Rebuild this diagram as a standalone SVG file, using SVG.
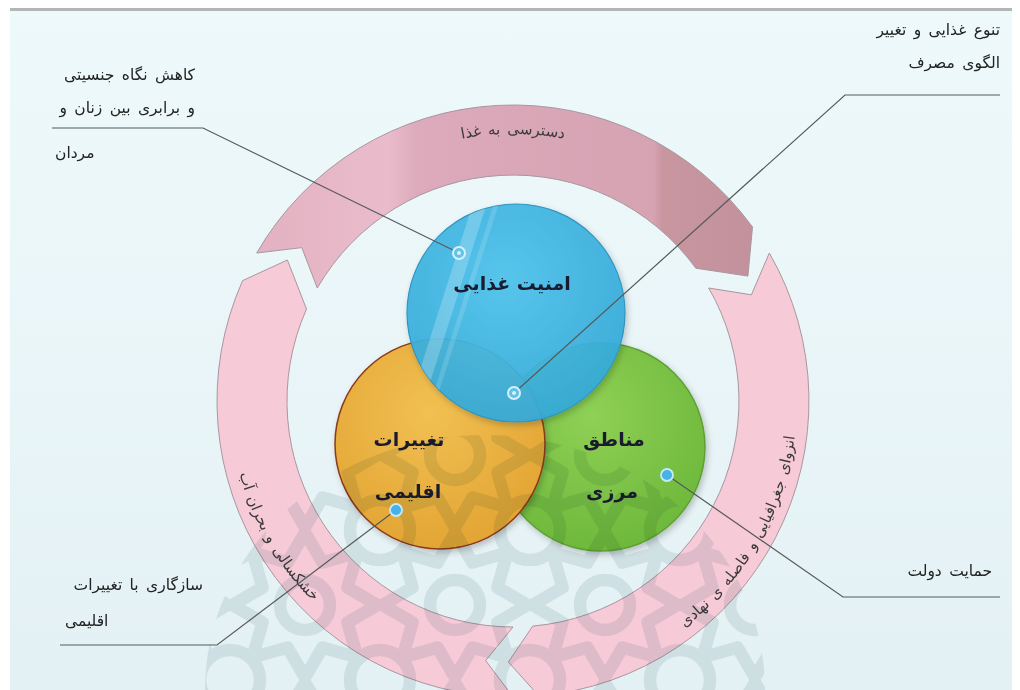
<svg xmlns="http://www.w3.org/2000/svg" width="1020" height="690" viewBox="0 0 1020 690">
  <defs>
    <style>
      .lbl { font-family: "DejaVu Sans", "Noto Sans", sans-serif; font-size: 15.5px; word-spacing: 2.5px; fill: #222; }
      .arctxt { font-family: "DejaVu Sans", "Noto Sans", sans-serif; font-size: 15px; word-spacing: 2px; fill: #3a3a3a; }
      .node-txt { font-family: "DejaVu Sans", "Noto Sans", sans-serif; font-size: 19px; font-weight: bold; fill: #1b1b2f; }
      .arc-pink { fill: #f7cad7; stroke: #a8979e; stroke-width: 1; }
      .conn { fill: none; stroke: #555a5c; stroke-width: 1.2; }
      .ring-dot { fill: #62c3e8; stroke: #d6f1fb; stroke-width: 2; }
      .solid-dot { fill: #47b2e8; stroke: #c4e9f8; stroke-width: 1.8; }
      .wm { fill: none; stroke: #d2dcde; stroke-width: 10; stroke-linejoin: round; }
    </style>
    <linearGradient id="bg" x1="0" y1="0" x2="0" y2="1">
      <stop offset="0" stop-color="#eef9fb"/>
      <stop offset="1" stop-color="#e4f1f4"/>
    </linearGradient>
    <linearGradient id="topArc" gradientUnits="userSpaceOnUse" x1="250" y1="0" x2="760" y2="0">
      <stop offset="0" stop-color="#e3b1c1"/>
      <stop offset="0.27" stop-color="#eabccb"/>
      <stop offset="0.33" stop-color="#dcaaba"/>
      <stop offset="0.79" stop-color="#d6a3b3"/>
      <stop offset="0.81" stop-color="#c8969f"/>
      <stop offset="1" stop-color="#c3919c"/>
    </linearGradient>
    <radialGradient id="gBlue" cx="0.45" cy="0.35" r="0.7">
      <stop offset="0" stop-color="#4fc4ec"/>
      <stop offset="1" stop-color="#33a8d8"/>
    </radialGradient>
    <radialGradient id="gYellow" cx="0.45" cy="0.35" r="0.7">
      <stop offset="0" stop-color="#f1c052"/>
      <stop offset="1" stop-color="#e2a332"/>
    </radialGradient>
    <radialGradient id="gGreen" cx="0.45" cy="0.35" r="0.7">
      <stop offset="0" stop-color="#8fd055"/>
      <stop offset="1" stop-color="#6bb73a"/>
    </radialGradient>
    <filter id="shadow" x="-20%" y="-20%" width="140%" height="140%">
      <feDropShadow dx="2" dy="3" stdDeviation="3" flood-color="#000" flood-opacity="0.22"/>
    </filter>
    <clipPath id="blueClip"><circle cx="516" cy="313" r="109"/></clipPath>
    <clipPath id="wmClip"><ellipse cx="485" cy="690" rx="280" ry="255"/></clipPath>
    <pattern id="girih" patternUnits="userSpaceOnUse" x="380" y="530" width="120" height="120" patternTransform="translate(380 530) scale(1.25) translate(-380 -530)">
      <polygon class="wm" points="60,2 74,26 102,18 94,46 118,60 94,74 102,102 74,94 60,118 46,94 18,102 26,74 2,60 26,46 18,18 46,26"/>
      <circle class="wm" cx="60" cy="60" r="20"/>
      <circle class="wm" cx="0" cy="0" r="24"/>
      <circle class="wm" cx="120" cy="0" r="24"/>
      <circle class="wm" cx="0" cy="120" r="24"/>
      <circle class="wm" cx="120" cy="120" r="24"/>
    </pattern>
    <path id="pTop" d="M 340.6 196.7 A 268 268 0 0 1 685.4 196.7"/>
    <path id="pLeft" d="M 231.1 376.3 A 283 283 0 0 0 393.4 657.5"/>
    <path id="pRight" d="M 586.5 675.3 A 284 284 0 0 0 787.3 327.5"/>
  </defs>

  <!-- background -->
  <rect x="0" y="0" width="1020" height="690" fill="#ffffff"/>
  <rect x="10" y="10" width="1002" height="680" fill="url(#bg)"/>
  <rect x="10" y="8" width="1002" height="3" fill="#b3b5b7"/>

  <!-- cycle arrows -->
  <g id="cycle">
    <path id="arc-top" d="M 256.7 253 A 296 296 0 0 1 752.5 227 L 747.9 276.1 L 695.8 268.2 A 226 226 0 0 0 317.3 288 L 301.8 247.6 Z" fill="url(#topArc)" stroke="#a8979e" stroke-width="1"/>
    <path id="arc-right" class="arc-pink" d="M 769.3 253 A 296 296 0 0 1 538.8 695.9 L 508.4 662 L 532.7 626.1 A 226 226 0 0 0 708.7 288 L 751.4 294.8 Z"/>
    <path id="arc-left" class="arc-pink" d="M 513 697 A 296 296 0 0 1 242.6 280.6 L 287.4 260 L 306.5 309.1 A 226 226 0 0 0 513 627 L 485.7 660.6 Z"/>
    <text class="arctxt"><textPath href="#pTop" startOffset="50%" text-anchor="middle">دسترسی به غذا</textPath></text>
    <text class="arctxt"><textPath href="#pLeft" startOffset="50%" text-anchor="middle">خشکسالی و بحران آب</textPath></text>
    <text class="arctxt"><textPath href="#pRight" startOffset="50%" text-anchor="middle">انزوای جغرافیایی و فاصله ی نهادی</textPath></text>
  </g>

  <!-- nodes -->
  <g id="node-border-areas">
    <circle cx="601" cy="447" r="104" fill="url(#gGreen)" stroke="#5f9f35" stroke-width="1.5" filter="url(#shadow)"/>
    <text class="node-txt" x="614" y="446" text-anchor="middle">مناطق</text>
    <text class="node-txt" x="612" y="498" text-anchor="middle">مرزی</text>
  </g>
  <g id="node-climate-change">
    <circle cx="440" cy="444" r="105" fill="url(#gYellow)" stroke="#8b3a1a" stroke-width="1.5" filter="url(#shadow)"/>
    <text class="node-txt" x="409" y="446" text-anchor="middle">تغییرات</text>
    <text class="node-txt" x="408" y="498" text-anchor="middle">اقلیمی</text>
  </g>
  <g id="node-food-security">
    <circle cx="516" cy="313" r="109" fill="url(#gBlue)" fill-opacity="0.93" stroke="#2f95c0" stroke-width="1.2" filter="url(#shadow)"/>
    <g clip-path="url(#blueClip)">
      <polygon points="474,200 488,200 426,395 412,395" fill="#ffffff" opacity="0.22"/>
      <polygon points="495,200 500,200 438,395 433,395" fill="#ffffff" opacity="0.14"/>
    </g>
    <text class="node-txt" x="512" y="290" text-anchor="middle">امنیت غذایی</text>
  </g>

  <!-- watermark pattern -->
  <g id="watermark" clip-path="url(#wmClip)" style="mix-blend-mode:multiply" opacity="0.55">
    <rect x="200" y="430" width="580" height="260" fill="url(#girih)"/>
  </g>

  <!-- connectors -->
  <g id="connectors">
    <polyline class="conn" points="52,128 203,128 459,253"/>
    <polyline class="conn" points="1000,95 845,95 514,393"/>
    <polyline class="conn" points="60,645 217,645 396,510"/>
    <polyline class="conn" points="1000,597 843,597 667,475"/>
    <circle class="ring-dot" cx="459" cy="253" r="6"/>
    <circle cx="459" cy="253" r="2" fill="#d6f1fb"/>
    <circle class="ring-dot" cx="514" cy="393" r="6"/>
    <circle cx="514" cy="393" r="2" fill="#d6f1fb"/>
    <circle class="solid-dot" cx="396" cy="510" r="6"/>
    <circle class="solid-dot" cx="667" cy="475" r="6"/>
  </g>

  <!-- labels -->
  <g id="label-gender">
    <text class="lbl" x="195" y="80" text-anchor="end">کاهش نگاه جنسیتی</text>
    <text class="lbl" x="195" y="113" text-anchor="end">و برابری بین زنان و</text>
    <text class="lbl" x="55" y="158" text-anchor="start">مردان</text>
  </g>
  <g id="label-diversity">
    <text class="lbl" x="1000" y="35" text-anchor="end">تنوع غذایی و تغییر</text>
    <text class="lbl" x="1000" y="68" text-anchor="end">الگوی مصرف</text>
  </g>
  <g id="label-adaptation">
    <text class="lbl" x="203" y="590" text-anchor="end">سازگاری با تغییرات</text>
    <text class="lbl" x="65" y="626" text-anchor="start">اقلیمی</text>
  </g>
  <g id="label-government">
    <text class="lbl" x="992" y="576" text-anchor="end">حمایت دولت</text>
  </g>
</svg>
